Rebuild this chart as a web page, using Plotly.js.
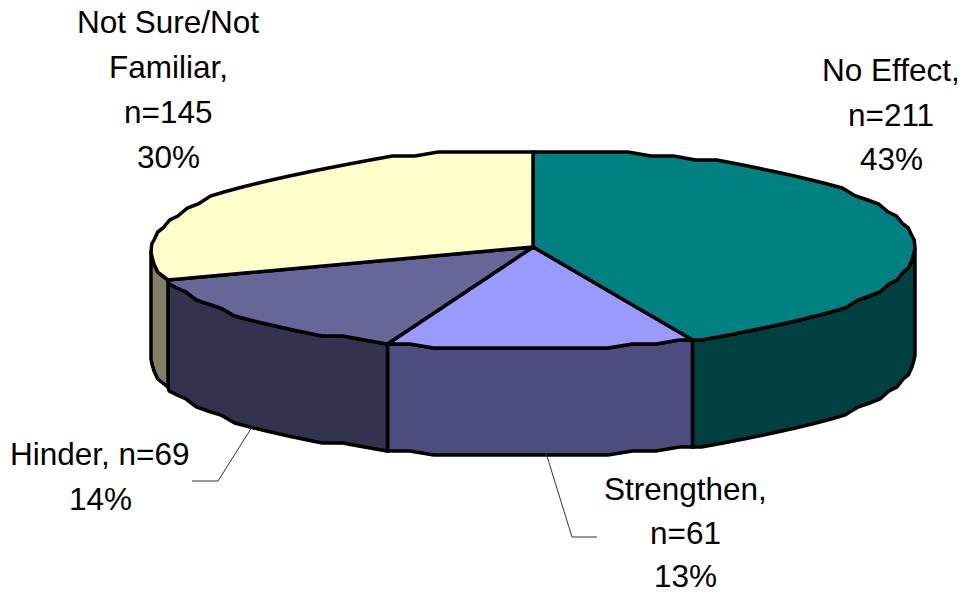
<!DOCTYPE html>
<html><head><meta charset="utf-8">
<script src="https://cdn.plot.ly/plotly-3.0.1.min.js"></script>
<style>html,body{margin:0;padding:0;background:#fff}</style></head>
<body><div id="chart" style="width:965px;height:595px"></div>
<script>
const categories = ["No Effect", "Strengthen", "Hinder", "Not Sure/Not Familiar"];
const values = [211, 61, 69, 145];
const topColors = ["#008080", "#9999FF", "#666699", "#FFFFCC"];
const sideColors = ["#004040", "#4D4D80", "#333350", "#808066"];
const labelLines = [
  ["No Effect,", "n=211", "43%"],
  ["Strengthen,", "n=61", "13%"],
  ["Hinder, n=69", "14%"],
  ["Not Sure/Not", "Familiar,", "n=145", "30%"]
];
const labelCenterX = [891, 685, 100, 168];
const labelFirstY = [70, 489, 453.5, 21.5];
const labelGap = [44.5, 43.5, 45, 45];
const leaders = [
  {x: [252, 218, 192], y: [427, 481, 481]},
  {x: [546, 572, 597], y: [453, 537, 537]}
];

const cx = 533, cy = 249.5, rx = 382, ry = 99.5, depth = 107, apexY = 247;
const step = 3.6, yGrid = 4;
const rad = d => d * Math.PI / 180;
function pt(deg, dy) {
  const s = Math.sin(rad(deg)), c = Math.cos(rad(deg));
  const persp = 1 + 0.05 * Math.pow(Math.max(0, -c), 3);
  const y = cy - ry * c - 2 * s;
  return [cx + rx * s * persp, Math.round(y / yGrid) * yGrid + dy];
}
function arc(a, b) {
  const out = [a];
  for (let d = Math.ceil(a / step) * step; d < b; d += step) if (d > a) out.push(d);
  out.push(b);
  return out;
}
const total = values.reduce((p, v) => p + v, 0);
const bounds = [0];
values.forEach(v => bounds.push(bounds[bounds.length - 1] + v / total * 360));

const lineStyle = {color: "#000", width: 3.5, simplify: false};
const traces = [];
function poly(points, fill) {
  traces.push({
    type: "scatter", mode: "lines", x: points.map(p => p[0]), y: points.map(p => p[1]),
    fill: "toself", fillcolor: fill, line: lineStyle, hoverinfo: "skip", showlegend: false
  });
}
// Visible wall of each slice (front half of the ring)
categories.forEach((name, i) => {
  const a = Math.max(bounds[i], 90), b = Math.min(bounds[i + 1], 270);
  if (b <= a) return;
  const angles = arc(a, b);
  const top = angles.map(d => pt(d, 0));
  const bottom = angles.slice().reverse().map(d => pt(d, depth));
  poly(top.concat(bottom, [top[0]]), sideColors[i]);
});
// Top faces
categories.forEach((name, i) => {
  const rim = arc(bounds[i], bounds[i + 1]).map(d => pt(d, 0));
  poly([[cx, apexY]].concat(rim, [[cx, apexY]]), topColors[i]);
});
leaders.forEach(l => traces.push({
  type: "scatter", mode: "lines", x: l.x, y: l.y,
  line: {color: "#333", width: 1}, hoverinfo: "skip", showlegend: false
}));

const annotations = [];
labelLines.forEach((lines, i) => lines.forEach((t, j) => annotations.push({
  text: t, x: labelCenterX[i], y: labelFirstY[i] + j * labelGap[i],
  xref: "x", yref: "y", showarrow: false, xanchor: "center", yanchor: "middle",
  font: {family: "Liberation Sans, Arial, sans-serif", size: 31.5, color: "#000"}
})));

Plotly.newPlot("chart", traces, {
  width: 965, height: 595, margin: {l: 0, r: 0, t: 0, b: 0},
  paper_bgcolor: "#fff", plot_bgcolor: "#fff", showlegend: false, hovermode: false,
  xaxis: {range: [0, 965], visible: false, fixedrange: true},
  yaxis: {range: [595, 0], visible: false, fixedrange: true},
  annotations
}, {displayModeBar: false, staticPlot: true});
</script></body></html>
